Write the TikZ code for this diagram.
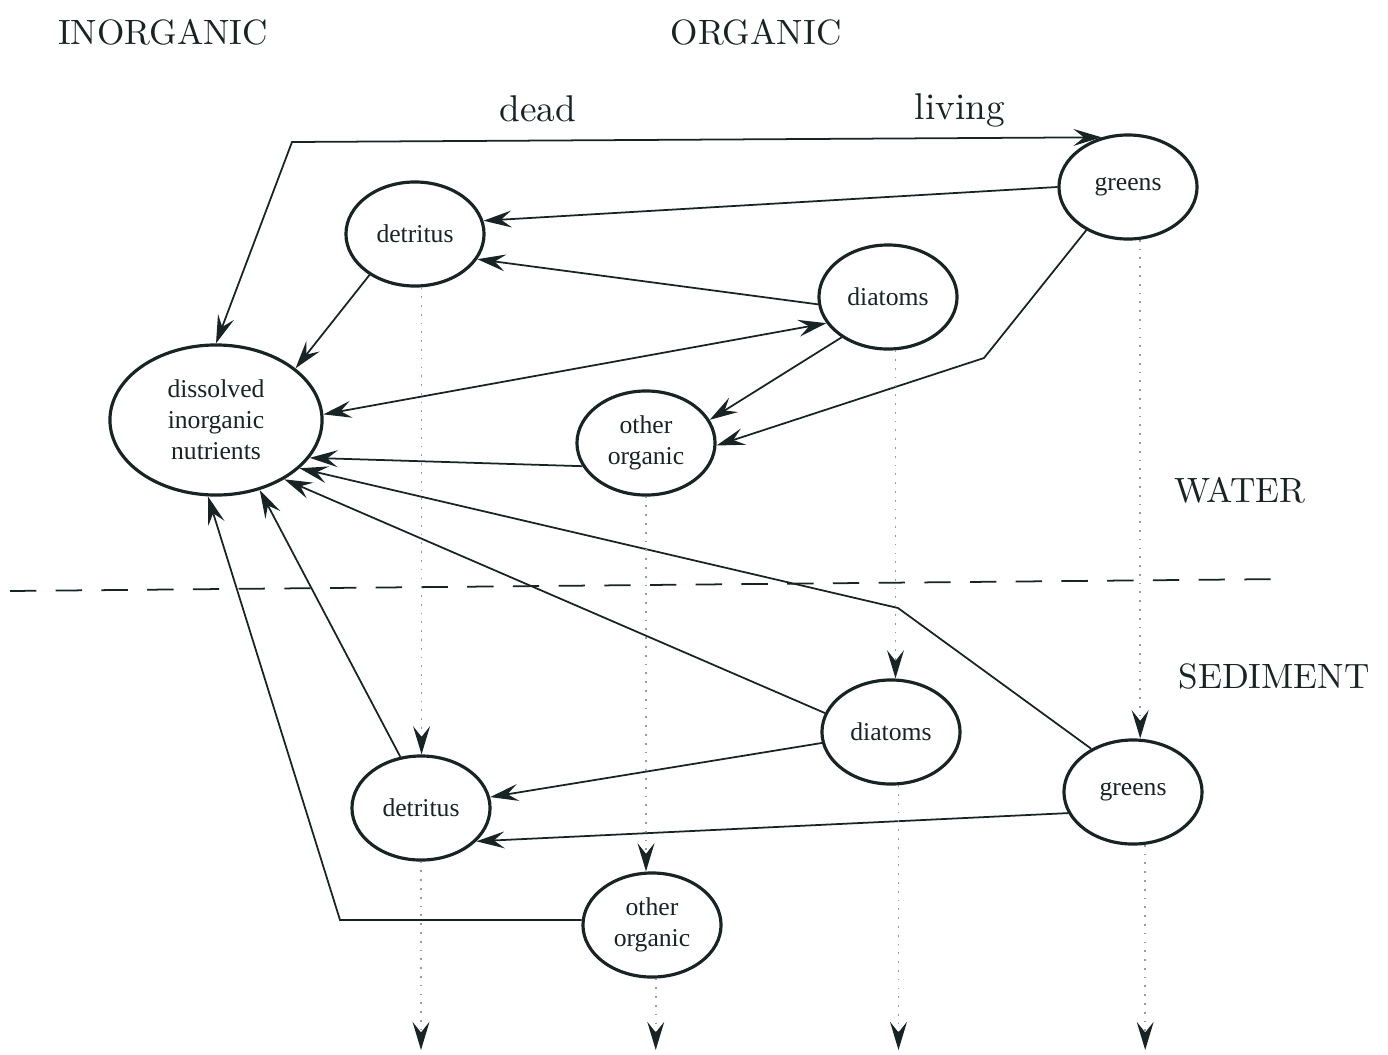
\documentclass[tikz,border=0pt]{standalone}
\usepackage{fontspec}
\newfontfamily\poolfont{Liberation Serif}
\usetikzlibrary{shapes.geometric,arrows.meta}
\definecolor{ink}{RGB}{24,36,36}

\begin{document}
\begin{tikzpicture}[
    x=0.01cm, y=-0.01cm,
    color=ink,
    line width=0.5pt,
    >={Stealth[length=8pt,width=4.8pt,inset=3pt,line width=0.6pt]},
    pool/.style={draw,ellipse,line width=0.9pt,inner sep=0pt,
        minimum width=1.38cm,minimum height=1.04cm,align=center,
        font=\poolfont\fontsize{7.3}{8.8}\selectfont},
    sink/.style={dotted,draw=ink!45,
        -{Stealth[length=8pt,width=4.8pt,inset=3pt,line width=0.6pt,ink]}},
    head/.style={anchor=base,font=\fontsize{10}{12}\selectfont},
    side/.style={anchor=base,font=\fontsize{10.6}{12}\selectfont},
]
    \useasboundingbox (0,0) rectangle (1388,1054);

    \node (inorg) at (163,44) [head] {INORGANIC};
    \node (org) at (756,44) [head] {ORGANIC};
    \node (dead) at (538,121) [side] {dead};
    \node (living) at (960,119) [side] {living};
    \node (water) at (1240,502) [head] {WATER};
    \node (sed) at (1274,688) [head] {SEDIMENT};

    % water column
    \node (nut) at (216,420) [pool,minimum width=2.12cm,minimum height=1.5cm]
        {dissolved\\inorganic\\nutrients};
    \node (detA) at (415,234) [pool] {detritus};
    \node (diaA) at (888,297) [pool] {diatoms};
    \node (grnA) at (1128,187) [pool] {greens};
    \node (othA) at (646,443) [pool] {other\\organic};
    % sediment
    \node (detB) at (421,808) [pool] {detritus};
    \node (diaB) at (891,732) [pool] {diatoms};
    \node (grnB) at (1133,792) [pool] {greens};
    \node (othB) at (652,925) [pool] {other\\organic};

    \coordinate (kinkA) at (292,142);
    \coordinate (kinkB) at (984,358);
    \coordinate (kinkC) at (898,608);
    \coordinate (kinkD) at (340,920);
    \coordinate (floor) at (0,1050);
    \coordinate (sepL) at (10,591);
    \coordinate (sepR) at (1285,579);

    \draw[dash pattern=on 7.5pt off 5.5pt] (sepL) -- (sepR);

    \draw[<->] (nut.90) -- (kinkA) -- (grnA.118);
    \draw[<->] (nut.3) -- (diaA.203);
    \draw[->] (grnA.180) -- (detA.11);
    \draw[->] (diaA.186) -- (detA.338);
    \draw[->] (detA.222) -- (nut.33);
    \draw[->] (diaA.221) -- (othA.20);
    \draw[->] (grnA.226) -- (kinkB) -- (othA.358);
    \draw[->] (othA.200) -- (nut.338);

    \draw[->] (diaB.164) -- (nut.319);
    \draw[->] (grnB.134) -- (kinkC) -- (nut.330);
    \draw[->] (detB.112) -- (nut.302);
    \draw[->] (othB.176) -- (kinkD) -- (nut.264);
    \draw[->] (diaB.189) -- (detB.9);
    \draw[->] (grnB.198) -- (detB.329);

    % settling
    \draw[sink] (detA.277) -- (detA.277 |- detB.north);
    \draw[sink] (othA.south) -- (othA.south |- othB.north);
    \draw[sink] (diaA.278) -- (diaA.278 |- diaB.north);
    \draw[sink] (grnA.283) -- (grnA.283 |- grnB.north);
    \draw[sink] (detB.south) -- (detB.south |- floor);
    \draw[sink] (othB.274) -- (othB.274 |- floor);
    \draw[sink] (diaB.278) -- (diaB.278 |- floor);
    \draw[sink] (grnB.283) -- (grnB.283 |- floor);
\end{tikzpicture}
\end{document}
